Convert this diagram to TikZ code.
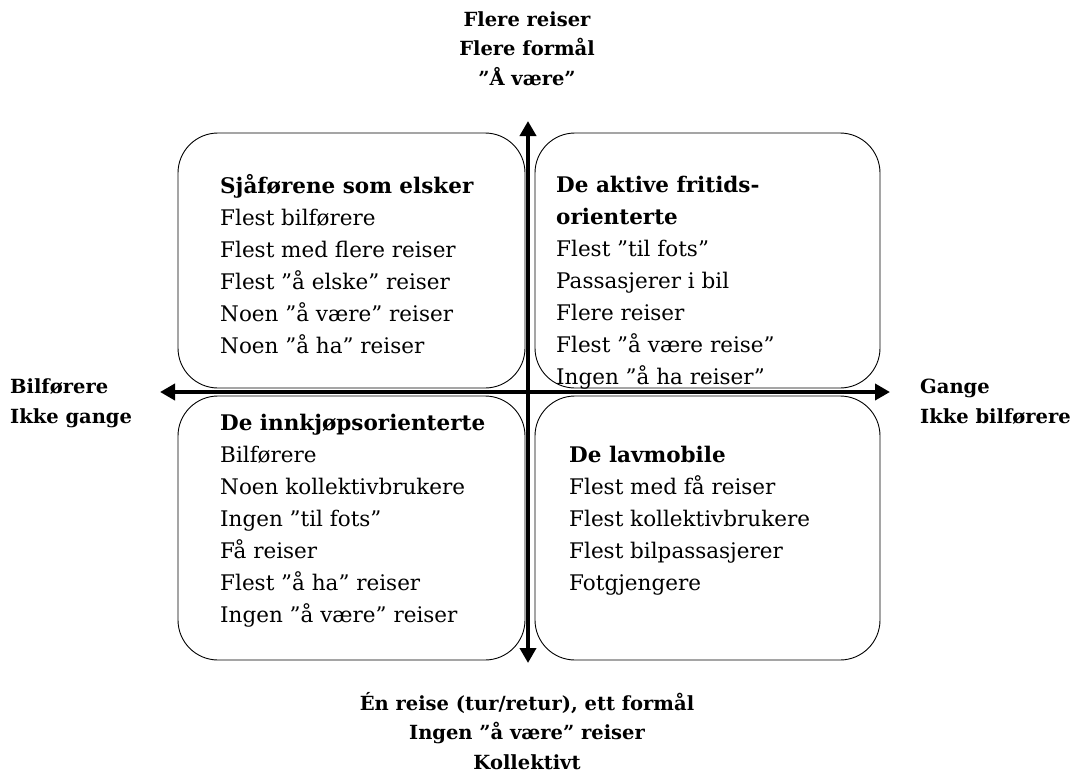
\documentclass[tikz,border=0pt]{standalone}
\usepackage{fontspec}
\setmainfont{DejaVu Serif}
\usetikzlibrary{arrows.meta}

\tikzset{
  quad/.style={draw,line width=0.9pt,rounded corners=40pt,minimum width=347pt,minimum height=255pt,inner sep=0pt},
  boxtext/.style={anchor=base west,align=left,inner sep=0pt,font=\fontsize{21.5}{32}\selectfont},
  axislabel/.style={anchor=base,align=center,inner sep=0pt,font=\fontsize{19.5}{29.5}\selectfont\bfseries},
  axis/.style={line width=4.5pt,{Triangle[length=15pt,width=16pt]}-{Triangle[length=15pt,width=16pt]}}
}

\begin{document}
\begin{tikzpicture}[x=1pt,y=-1pt]
    \useasboundingbox (0,0) rectangle (1081,782);
    \node[quad] (sjafor) at (351.5,260.5) {};
    \node[quad,minimum width=345pt] (aktive) at (707.5,260.5) {};
    \node[quad,minimum height=264pt] (innkjop) at (351.5,528) {};
    \node[quad,minimum width=345pt,minimum height=264pt] (lavmob) at (707.5,528) {};

    \coordinate (ytop) at (528,121);
    \coordinate (ybot) at (528,663);
    \coordinate (xleft) at (160,392);
    \coordinate (xright) at (890,392);
    \draw[axis] (ybot) -- (ytop);
    \draw[axis] (xleft) -- (xright);

    % base anchor = last line
    \node[boxtext] (sjafortxt) at (220,353) {\textbf{Sjåførene som elsker}\\Flest bilførere\\Flest med flere reiser\\Flest ”å elske” reiser\\Noen ”å være” reiser\\Noen ”å ha” reiser};
    \node[boxtext] (aktivetxt) at (556,384) {\textbf{De aktive fritids-}\\\textbf{orienterte}\\Flest ”til fots”\\Passasjerer i bil\\Flere reiser\\Flest ”å være reise”\\Ingen ”å ha reiser”};
    \node[boxtext] (innkjoptxt) at (220,622) {\textbf{De innkjøpsorienterte}\\Bilførere\\Noen kollektivbrukere\\Ingen ”til fots”\\Få reiser\\Flest ”å ha” reiser\\Ingen ”å være” reiser};
    \node[boxtext] (lavmobtxt) at (569,590) {\textbf{De lavmobile}\\Flest med få reiser\\Flest kollektivbrukere\\Flest bilpassasjerer\\Fotgjengere};

    \node[axislabel] (toplbl) at (527,85) {Flere reiser\\Flere formål\\”Å være”};
    \node[axislabel] (botlbl) at (527,769) {Én reise (tur/retur), ett formål\\Ingen ”å være” reiser\\Kollektivt};
    \node[axislabel,anchor=base west,align=left] (leftlbl) at (10,423) {Bilførere\\Ikke gange};
    \node[axislabel,anchor=base west,align=left] (rightlbl) at (920,423) {Gange\\Ikke bilførere};
  \end{tikzpicture}
\end{document}
